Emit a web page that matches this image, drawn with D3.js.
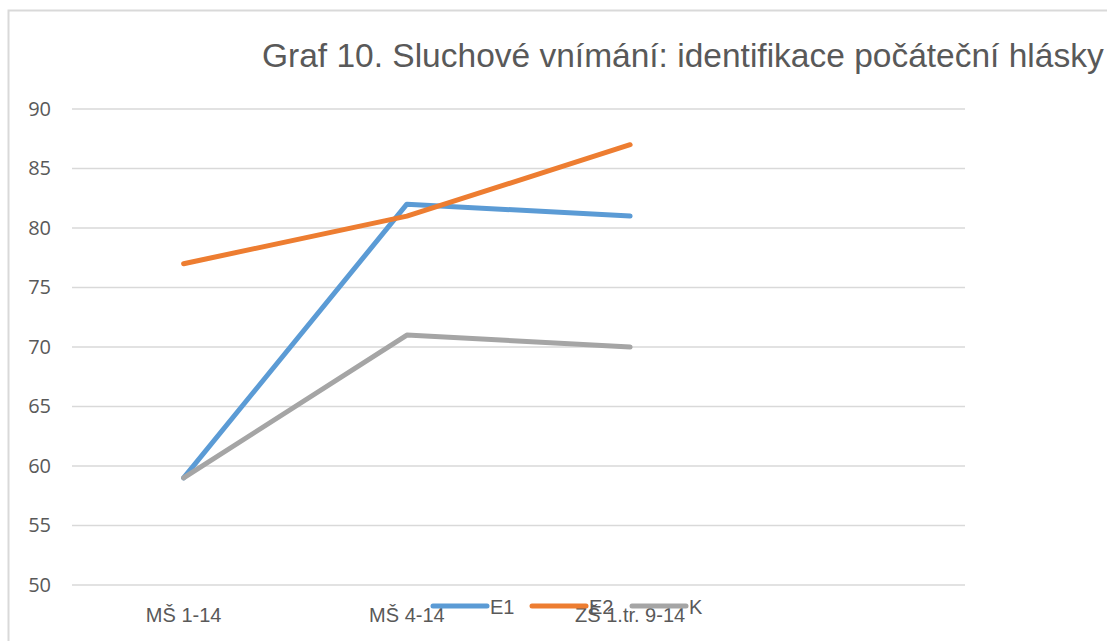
<!DOCTYPE html>
<html>
<head>
<meta charset="utf-8">
<script src="https://cdn.jsdelivr.net/npm/d3@7"></script>
<style>
  body { margin: 0; background: #fff; }
  svg { display: block; }
</style>
</head>
<body>
<div id="chart"></div>
<script>
// data grafu
const categories = ["MŠ 1-14", "MŠ 4-14", "ZŠ 1.tr. 9-14", ""];
const seriesNames = ["E1", "E2", "K"];
const valuesE1 = [59, 82, 81];
const valuesE2 = [77, 81, 87];
const valuesK = [59, 71, 70];
const yTicks = [50, 55, 60, 65, 70, 75, 80, 85, 90];
const colors = ["#5b9bd5", "#ed7d31", "#a5a5a5"];

const W = 1107, H = 641;
const font = "'Liberation Sans Narrow', 'Liberation Sans', sans-serif";

const svg = d3.select("#chart").append("svg")
  .attr("width", W).attr("height", H);

// ramecek grafu
svg.append("rect")
  .attr("x", 8.5).attr("y", 10.5)
  .attr("width", W + 20).attr("height", H + 20)
  .attr("fill", "none").attr("stroke", "#d9d9d9").attr("stroke-width", 2);

const x = d3.scaleBand().domain(categories.map((c, i) => i)).range([72, 965]);
const y = d3.scaleLinear().domain([50, 90]).range([585, 109]);

// mrizka
svg.append("g").selectAll("line").data(yTicks).join("line")
  .attr("x1", 72).attr("x2", 965)
  .attr("y1", d => y(d)).attr("y2", d => y(d))
  .attr("stroke", "#d9d9d9").attr("stroke-width", 1.5);

// osa y
const yAxis = svg.append("g").attr("transform", "translate(51,0)")
  .attr("font-size", 20)
  .attr("font-family", "'Open Sans', sans-serif")
  .call(d3.axisLeft(y).tickValues(yTicks).tickSize(0).tickPadding(0));
yAxis.select(".domain").remove();
yAxis.attr("font-size", 20).attr("font-family", "'Open Sans', sans-serif");
yAxis.selectAll("text").attr("fill", "#595959");

// popisky kategorii
svg.append("g").selectAll("text").data(categories).join("text")
  .attr("x", (d, i) => x(i) + x.bandwidth() / 2)
  .attr("y", 622)
  .attr("text-anchor", "middle")
  .attr("fill", "#595959")
  .style("font-family", font)
  .style("font-size", "20px")
  .text(d => d);

// cary
const line = d3.line()
  .x((d, i) => x(i) + x.bandwidth() / 2)
  .y(d => y(d));

[valuesE1, valuesE2, valuesK].forEach((vals, k) => {
  svg.append("path")
    .datum(vals)
    .attr("d", line)
    .attr("fill", "none")
    .attr("stroke", colors[k])
    .attr("stroke-width", 5)
    .attr("stroke-linecap", "round")
    .attr("stroke-linejoin", "round");
});

// legenda
const legendX = [433, 532, 632];
seriesNames.forEach((name, k) => {
  const g = svg.append("g").attr("transform", `translate(${legendX[k]},606)`);
  g.append("line")
    .attr("x1", 0).attr("x2", 54)
    .attr("stroke", colors[k]).attr("stroke-width", 5)
    .attr("stroke-linecap", "round");
  g.append("text")
    .attr("x", 57).attr("y", 8)
    .attr("fill", "#595959")
    .style("font-family", font)
    .style("font-size", "20px")
    .text(name);
});

// nadpis
svg.append("text")
  .attr("x", 262).attr("y", 67)
  .attr("fill", "#595959")
  .style("font-family", font)
  .style("font-size", "33.5px")
  .text("Graf 10. Sluchové vnímání: identifikace počáteční hlásky");
</script>
</body>
</html>
